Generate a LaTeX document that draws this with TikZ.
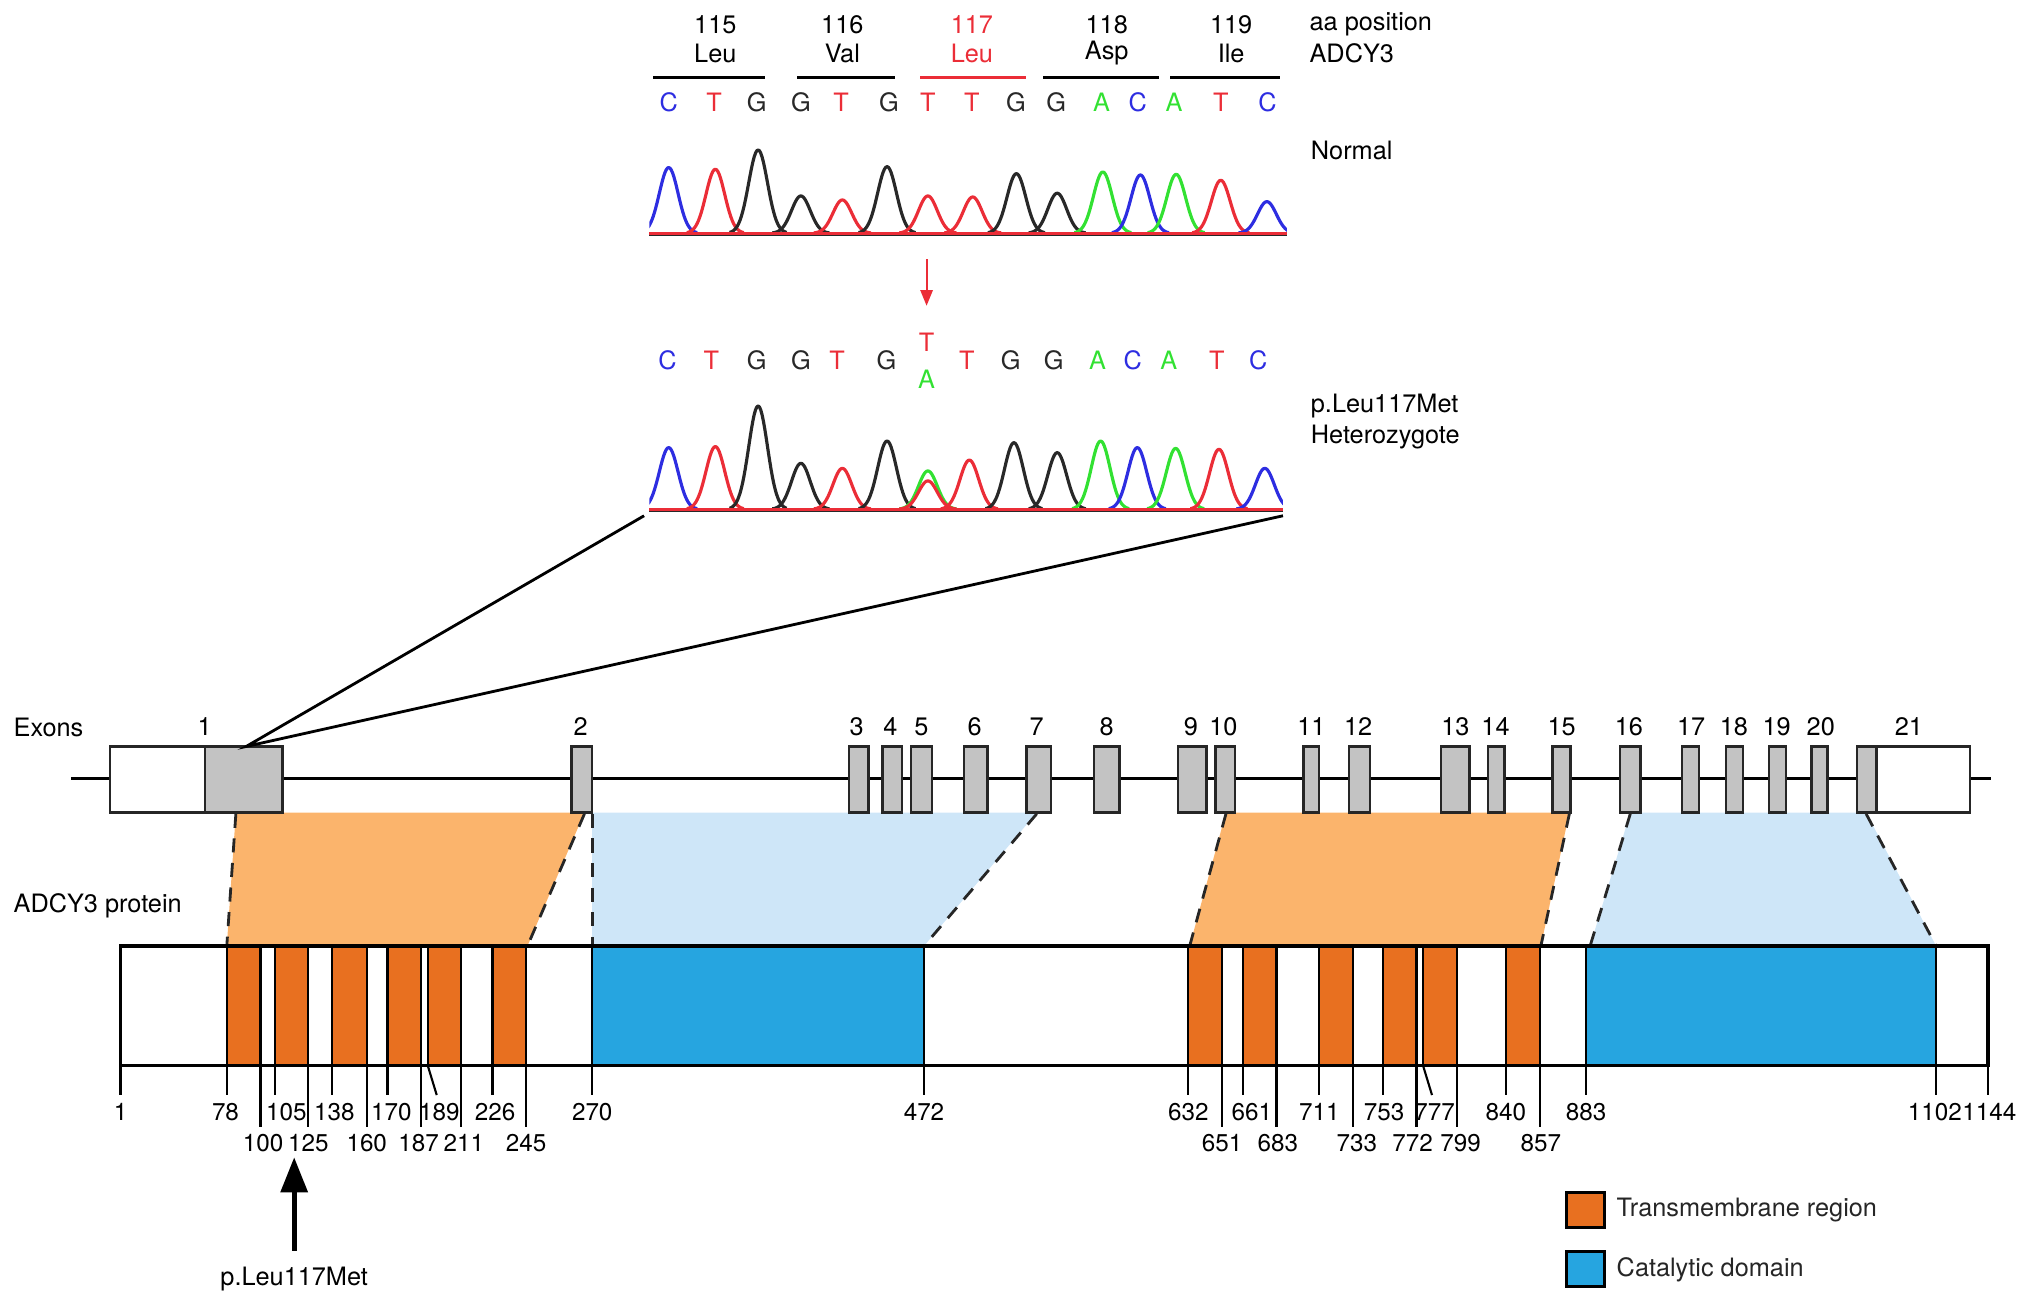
\documentclass[tikz,border=0pt]{standalone}
\usepackage{fontspec}
\setmainfont{TeX Gyre Heros}
\usetikzlibrary{arrows.meta}

\definecolor{baseC}{RGB}{45,45,225}
\definecolor{baseT}{RGB}{235,45,55}
\definecolor{baseG}{RGB}{40,40,40}
\definecolor{baseA}{RGB}{50,225,50}
\definecolor{tmorange}{RGB}{232,112,32}
\definecolor{tmlight}{RGB}{251,180,108}
\definecolor{catblue}{RGB}{38,165,224}
\definecolor{catlight}{RGB}{206,230,248}
\definecolor{exongray}{RGB}{195,195,195}

\tikzset{
	txt/.style={font=\fontsize{7.2}{8.6}\selectfont, inner sep=0pt},
	num/.style={font=\fontsize{6.9}{8}\selectfont, inner sep=0pt},
	trace/.style={line width=0.9pt, line join=round},
	exon/.style={draw=black!85, fill=exongray, line width=0.7pt},
	link/.style={dash pattern=on 4pt off 3pt, line width=0.8pt, black!85},
}

\begin{document}
\begin{tikzpicture}[x=0.01296cm, y=-0.01296cm]
		\useasboundingbox (0,0) rectangle (1568,1007);

		\foreach \pos/\aa/\cx/\a/\b/\col in {115/Leu/552/504/590/black, 116/Val/650/615/691/black, 117/Leu/750/710/792/baseT, 118/Asp/854/805/894/black, 119/Ile/950/903/988/black}
		{
			\node [txt, text=\col] (num\pos) at (\cx,19) {\pos};
			\node [txt, text=\col] (aa\pos) at (\cx,41) {\aa};
			\draw [\col, line width=1pt] (\a,60) -- (\b,60);
		}
		\node [txt, anchor=west] (aapos) at (1010,19) {aa position};
		\node [txt, anchor=west] (gene) at (1010,41) {ADCY3};

		\foreach \x/\b/\col [count=\i] in {516/C/baseC, 551/T/baseT, 584/G/baseG, 618/G/baseG, 649/T/baseT, 686/G/baseG, 716/T/baseT, 750/T/baseT, 784/G/baseG, 815/G/baseG, 850/A/baseA, 878/C/baseC, 906/A/baseA, 942/T/baseT, 978/C/baseC}
		{
			\node [txt, text=\col] (nb\i) at (\x,79) {\b};
		}
		\node [txt, anchor=west] (normal) at (1011,116) {Normal};

		\begin{scope}
			\clip (501,100) rectangle (993,190);
			\foreach \c/\h/\col in {516/50.7/baseC, 552/49.4/baseT, 585/64.3/baseG, 618/28.8/baseG, 650/25.7/baseT, 684.5/51.4/baseG, 716/28.8/baseT, 750.6/28/baseT, 784.3/46/baseG, 815.8/30.9/baseG, 851/47.3/baseA, 880/45/baseC, 907.6/45.5/baseA, 942/40.9/baseT, 977.6/24.4/baseC}
			{
				\pgfmathsetmacro\lo{\c-22}
				\pgfmathsetmacro\hi{\c+22}
				\draw [trace, \col] plot [domain=\lo:\hi, samples=45] (\x, {180-\h*exp(-(\x-\c)*(\x-\c)/105)});
			}
		\end{scope}
		\draw [baseG, line width=0.5pt] (501,181.5) -- (993,181.5);
		\draw [baseT, line width=0.9pt] (501,180) -- (993,180);

		\coordinate (arrowtop) at (715,200);
		\coordinate (arrowend) at (715,236);
		\draw [baseT, line width=0.6pt, -{Triangle[width=3.5pt, length=4.5pt]}] (arrowtop) -- (arrowend);

		\foreach \x/\b/\col [count=\i] in {515/C/baseC, 549/T/baseT, 584/G/baseG, 618/G/baseG, 646/T/baseT, 684/G/baseG, 746/T/baseT, 780/G/baseG, 813/G/baseG, 847/A/baseA, 874/C/baseC, 902/A/baseA, 939/T/baseT, 971/C/baseC}
		{
			\node [txt, text=\col] (mb\i) at (\x,278) {\b};
		}
		\node [txt, text=baseT] (mutT) at (715,264) {T};
		\node [txt, text=baseA] (mutA) at (715,293) {A};
		\node [txt, anchor=west] (variant) at (1011,313) {p.Leu117Met};
		\node [txt, anchor=west] (zygosity) at (1011,337) {Heterozygote};

		\begin{scope}
			\clip (501,300) rectangle (990,403);
			\foreach \c/\h/\col in {516/47.6/baseC, 552/48.4/baseT, 585/79.7/baseG, 618/35.5/baseG, 650/31.6/baseT, 684.5/52.7/baseG, 716/29.6/baseA, 716/21.9/baseT, 748/38/baseT, 782.4/51.4/baseG, 815.8/43.7/baseG, 849.3/52.7/baseA, 877.6/47.6/baseC, 907.2/47/baseA, 940.6/46.3/baseT, 976/31.6/baseC}
			{
				\pgfmathsetmacro\lo{\c-22}
				\pgfmathsetmacro\hi{\c+22}
				\draw [trace, \col] plot [domain=\lo:\hi, samples=45] (\x, {393-\h*exp(-(\x-\c)*(\x-\c)/105)});
			}
		\end{scope}
		\draw [baseG, line width=0.5pt] (501,394.5) -- (990,394.5);
		\draw [baseT, line width=0.9pt] (501,393) -- (990,393);

		\coordinate (chromL) at (497,398);
		\coordinate (chromR) at (990,398);
		\coordinate (exzoom) at (190,576);

		\fill [tmlight] (182,627) -- (451,627) -- (407,730) -- (175,730) -- cycle;
		\fill [catlight] (457,627) -- (800,627) -- (713,730) -- (457,730) -- cycle;
		\fill [tmlight] (946,627) -- (1211,627) -- (1189,730) -- (918,730) -- cycle;
		\fill [catlight] (1258,627) -- (1440,627) -- (1494,730) -- (1227,730) -- cycle;
		\foreach \a/\b in {182/175, 451/407, 457/457, 800/713, 946/918, 1211/1189, 1258/1227, 1440/1494}
		{
			\draw [link] (\a,628) -- (\b,730);
		}

		\node [txt, anchor=west] (exons) at (10,561) {Exons};
		\draw [line width=0.8pt] (55,601) -- (1536,601);
		\draw [line width=0.7pt, draw=black!85, fill=white] (85,576) rectangle (158,627);
		\draw [exon] (158,576) rectangle (218,627);
		\draw [exon] (1433,576) rectangle (1448,627);
		\draw [line width=0.7pt, draw=black!85, fill=white] (1448,576) rectangle (1520,627);
		\foreach \a/\b in {441/457, 655/670, 681/696, 703/719, 744/762, 792/811, 844/864, 909/931, 938/953, 1006/1018, 1041/1057, 1112/1134, 1148/1161, 1198/1212, 1250/1266, 1298/1311, 1332/1345, 1365/1378, 1398/1410}
		{
			\draw [exon] (\a,576) rectangle (\b,627);
		}
		\foreach \n/\x in {1/158, 2/448, 3/661, 4/687, 5/711, 6/752, 7/800, 8/854, 9/919, 10/944, 11/1012, 12/1048, 13/1123, 14/1154, 15/1205, 16/1257, 17/1305, 18/1338, 19/1371, 20/1405, 21/1473}
		{
			\node [txt] (ex\n) at (\x,561) {\n};
		}
		\draw [line width=0.8pt] (chromL) -- (exzoom) -- (chromR);

		\node [txt, anchor=west] (protein) at (10,699) {ADCY3 protein};
		\draw [fill=white, line width=0.9pt] (93,730) rectangle (1534,822);
		\foreach \a/\b in {175/201, 212/238, 256/283, 299/325, 330/356, 380/406, 917/943, 959/985, 1018/1044, 1067/1093, 1098/1124, 1162/1188}
		{
			\draw [fill=tmorange, line width=0.6pt] (\a,730) rectangle (\b,822);
		}
		\draw [fill=catblue, line width=0.6pt] (457,730) rectangle (713,822);
		\draw [fill=catblue, line width=0.6pt] (1224,730) rectangle (1494,822);
		\draw [line width=0.9pt] (93,730) rectangle (1534,822);

		\foreach \t/\x/\lx in {1/93/93, 78/175/174, 105/212/221, 138/256/258, 170/299/302, 226/380/382, 270/457/457, 472/713/713, 632/917/917, 661/959/966, 711/1018/1018, 753/1067/1068, 840/1162/1162, 883/1224/1224, 1102/1494/1493, 1144/1534/1535}
		{
			\draw [line width=0.6pt] (\x,822) -- (\x,845);
			\node [num] (p\t) at (\lx,858) {\t};
		}
		\draw [line width=0.6pt] (330,822) -- (337,845);
		\node [num] (p189) at (339,858) {189};
		\draw [line width=0.6pt] (1098,822) -- (1105,845);
		\node [num] (p777) at (1107,858) {777};
		\foreach \t/\x/\lx in {100/201/203, 125/238/238, 160/283/283, 187/325/323, 211/356/358, 245/406/406, 651/943/943, 683/985/986, 733/1044/1047, 772/1093/1090, 799/1124/1127, 857/1188/1189}
		{
			\draw [line width=0.6pt] (\x,822) -- (\x,870);
			\node [num] (p\t) at (\lx,882) {\t};
		}

		\node [txt] (mutlabel) at (227,987) {p.Leu117Met};
		\coordinate (muttip) at (227,893);
		\draw [line width=1.5pt, shorten <=4.5pt, -{Triangle[width=7.5pt, length=10pt]}] (mutlabel.north) -- (muttip);

		\draw [fill=tmorange, line width=0.8pt] (1209,920) rectangle (1238,947);
		\node [txt, anchor=west, text=black!85] (tmkey) at (1247,934) {Transmembrane region};
		\draw [fill=catblue, line width=0.8pt] (1209,966) rectangle (1238,993);
		\node [txt, anchor=west, text=black!85] (catkey) at (1247,980) {Catalytic domain};
\end{tikzpicture}
\end{document}
